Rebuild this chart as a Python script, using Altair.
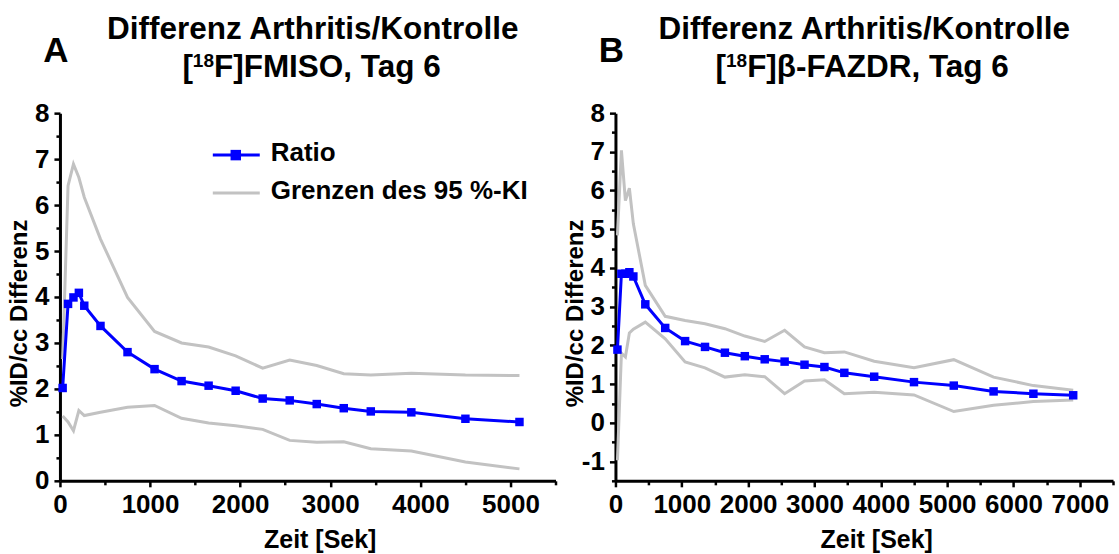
import altair as alt
import pandas as pd

FONT = "Liberation Sans"
BLUE = "#0000ff"
GRAY = "#c2c2c2"

# ---------------- data ----------------
time_a = [30, 90, 150, 210, 270, 450, 750, 1050, 1350, 1650, 1950, 2250, 2550,
          2850, 3150, 3450, 3900, 4500, 5100]
ratio_a = [2.02, 3.85, 3.99, 4.09, 3.81, 3.37, 2.80, 2.43, 2.17, 2.07, 1.96, 1.79,
           1.75, 1.67, 1.58, 1.51, 1.49, 1.35, 1.28]
upper_a = [2.65, 6.42, 6.89, 6.60, 6.17, 5.26, 3.99, 3.25, 3.00, 2.91, 2.72, 2.45,
           2.63, 2.51, 2.33, 2.30, 2.34, 2.30, 2.29]
lower_a = [1.41, 1.28, 1.09, 1.53, 1.42, 1.49, 1.60, 1.64, 1.36, 1.26, 1.20, 1.12,
           0.88, 0.84, 0.85, 0.70, 0.65, 0.41, 0.26]

time_b = [30, 90, 150, 210, 270, 450, 750, 1050, 1350, 1650, 1950, 2250, 2550,
          2850, 3150, 3450, 3900, 4500, 5100, 5700, 6300, 6900]
ratio_b = [1.89, 3.85, 3.85, 3.89, 3.78, 3.06, 2.45, 2.11, 1.96, 1.81, 1.72, 1.64,
           1.58, 1.50, 1.44, 1.29, 1.19, 1.05, 0.96, 0.81, 0.75, 0.71]
upper_b = [4.84, 7.04, 5.74, 6.06, 5.14, 3.55, 2.75, 2.64, 2.56, 2.43, 2.24, 2.10,
           2.39, 1.96, 1.81, 1.83, 1.59, 1.42, 1.63, 1.18, 0.96, 0.84]
lower_b = [-0.97, 1.80, 1.70, 2.32, 2.42, 2.60, 2.17, 1.57, 1.42, 1.18, 1.24, 1.19,
           0.75, 1.08, 1.11, 0.75, 0.79, 0.72, 0.29, 0.45, 0.55, 0.59]

title_line1 = "Differenz Arthritis/Kontrolle"
# second title line: "[", superscript mass number, rest
title_bracket = "["
title_isotope = "18"
title_a_rest = "F]FMISO, Tag 6"
title_b_rest = "F]β-FAZDR, Tag 6"
panel_letters = ["A", "B"]
legend_labels = ["Ratio", "Grenzen des 95 %-KI"]
x_title = "Zeit [Sek]"
y_title = "%ID/cc Differenz"

TITLE_FS = 31.5
SUP_FS = 19

# approximate Arial/Liberation Sans Bold advance widths (em) for centring the
# composite second title line
_W = {"[": .333, "]": .333, "F": .611, "M": .833, "I": .278, "S": .667, "O": .778,
      ",": .278, " ": .278, "T": .611, "a": .556, "g": .611, "6": .556, "β": .611,
      "-": .333, "A": .722, "Z": .611, "D": .722, "R": .722, "1": .556, "8": .556}


def text_width(s, fs):
    return sum(_W.get(c, .6) for c in s) * fs


def make_panel(times, ratio, upper, lower, xmax, ydom, rest, letter, width,
               height, show_legend, title_dx):
    ci_df = pd.DataFrame({
        "t": times + times,
        "v": upper + lower,
        "s": ["upper"] * len(times) + ["lower"] * len(times),
    })
    r_df = pd.DataFrame({"t": times, "v": ratio})

    xvals = list(range(0, xmax + 1, 500))
    yvals = [ydom[0] + 0.5 * i for i in range(int(round((ydom[1] - ydom[0]) / 0.5)) + 1)]

    x = alt.X("t:Q",
              scale=alt.Scale(domain=[0, xmax], nice=False, zero=False),
              axis=alt.Axis(values=xvals,
                            labelExpr="datum.value % 1000 == 0 ? '' + datum.value : ''",
                            tickSize={"condition": {"test": "datum.value % 1000 == 0",
                                                    "value": 6}, "value": 4},
                            labelFlush=False, labelOverlap=False,
                            title=x_title, titleX=width / 2 + 12, titleY=67,
                            titleBaseline="alphabetic"))
    y = alt.Y("v:Q",
              scale=alt.Scale(domain=ydom, nice=False, zero=False),
              axis=alt.Axis(values=yvals,
                            labelExpr="datum.value % 1 == 0 ? '' + datum.value : ''",
                            tickSize={"condition": {"test": "datum.value % 1 == 0",
                                                    "value": 6}, "value": 4},
                            labelFlush=False, labelOverlap=False,
                            labelPadding=5,
                            title=y_title, titleX=-40, titleY=200,
                            titleFontSize=24,
                            titleBaseline="middle", titleAngle=270))

    ci = alt.Chart(ci_df).mark_line(color=GRAY, strokeWidth=3).encode(
        x=x, y=y, detail="s:N")
    line = alt.Chart(r_df).mark_line(color=BLUE, strokeWidth=3).encode(x=x, y=y)
    pts = alt.Chart(r_df).mark_point(shape="square", filled=True, size=72,
                                     color=BLUE, opacity=1).encode(x=x, y=y)

    cx = width / 2 + title_dx
    tstyle = dict(font=FONT, fontWeight="bold", baseline="alphabetic", color="black")
    t1 = alt.Chart(pd.DataFrame({"txt": [title_line1]})).mark_text(
        fontSize=TITLE_FS, align="center", **tstyle).encode(
        text="txt:N", x=alt.value(cx), y=alt.value(-74))

    w_br = text_width(title_bracket, TITLE_FS)
    w_sup = text_width(title_isotope, SUP_FS)
    w_rest = text_width(rest, TITLE_FS)
    x0 = cx - (w_br + w_sup + w_rest) / 2
    t2a = alt.Chart(pd.DataFrame({"txt": [title_bracket]})).mark_text(
        fontSize=TITLE_FS, align="left", **tstyle).encode(
        text="txt:N", x=alt.value(x0), y=alt.value(-36))
    t2b = alt.Chart(pd.DataFrame({"txt": [title_isotope]})).mark_text(
        fontSize=SUP_FS, align="left", **tstyle).encode(
        text="txt:N", x=alt.value(x0 + w_br), y=alt.value(-46))
    t2c = alt.Chart(pd.DataFrame({"txt": [rest]})).mark_text(
        fontSize=TITLE_FS, align="left", **tstyle).encode(
        text="txt:N", x=alt.value(x0 + w_br + w_sup), y=alt.value(-36))
    tl = alt.Chart(pd.DataFrame({"txt": [letter]})).mark_text(
        fontSize=35, align="center", **tstyle).encode(
        text="txt:N", x=alt.value(-4), y=alt.value(-51))

    layers = [ci, line, pts, t1, t2a, t2b, t2c, tl]

    if show_legend:
        lg = pd.DataFrame({"txt": [legend_labels[0]]})
        lg2 = pd.DataFrame({"txt": [legend_labels[1]]})
        r1 = alt.Chart(lg).mark_rule(color=BLUE, strokeWidth=3).encode(
            x=alt.value(153), x2=alt.value(200), y=alt.value(42))
        p1 = alt.Chart(lg).mark_point(shape="square", filled=True, size=110,
                                      color=BLUE, opacity=1).encode(
            x=alt.value(176), y=alt.value(42))
        tx1 = alt.Chart(lg).mark_text(fontSize=26, align="left", **tstyle).encode(
            text="txt:N", x=alt.value(211), y=alt.value(48))
        r2 = alt.Chart(lg2).mark_rule(color=GRAY, strokeWidth=3).encode(
            x=alt.value(153), x2=alt.value(200), y=alt.value(80))
        tx2 = alt.Chart(lg2).mark_text(fontSize=26, align="left", **tstyle).encode(
            text="txt:N", x=alt.value(211), y=alt.value(86))
        layers += [r1, p1, tx1, r2, tx2]

    return alt.layer(*layers).properties(width=width, height=height)


panel_a = make_panel(time_a, ratio_a, upper_a, lower_a, 5500, [0, 8],
                     title_a_rest, panel_letters[0], 496, 368, True, 5)
panel_b = make_panel(time_b, ratio_b, upper_b, lower_b, 7500, [-1.5, 8],
                     title_b_rest, panel_letters[1], 498, 368, False, 0)

chart = alt.hconcat(panel_a, panel_b, spacing=6).properties(
    padding={"left": 8, "top": 14, "right": 4, "bottom": 0}
).configure_view(stroke=None).configure_axis(
    grid=False,
    domainColor="black", domainWidth=3,
    tickColor="black", tickWidth=2.5,
    labelFont=FONT, labelFontSize=26, labelFontWeight="bold", labelColor="black",
    labelPadding=5,
    titleFont=FONT, titleFontSize=25, titleFontWeight="bold", titleColor="black",
)

chart.save("out.html", embed_options={"renderer": "svg", "actions": False})
